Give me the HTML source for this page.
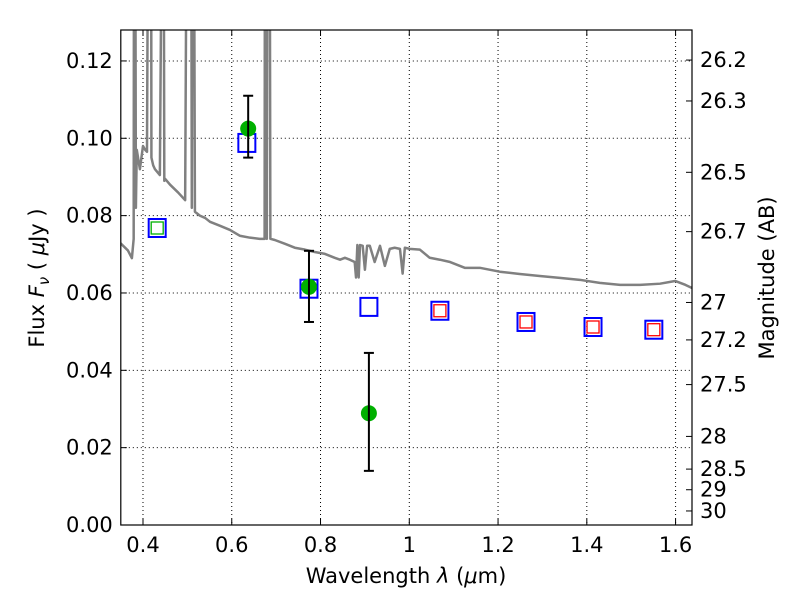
<!DOCTYPE html>
<html><head><meta charset="utf-8"><style>
body{margin:0;background:#fff;}
svg text{font-family:"DejaVu Sans","Liberation Sans",sans-serif;font-size:21px;fill:#000;}
</style></head><body>
<svg id="chart" width="800" height="600">
<g id="grid"></g>
<g id="spec"></g>
<g id="marks"></g>
<rect x="120.8" y="30" width="571.2" height="495" fill="none" stroke="#000" stroke-width="1.2"/>
<g id="axes"></g>
<text x="406" y="583" text-anchor="middle">Wavelength  <tspan font-style="italic">λ</tspan> (<tspan font-style="italic">μ</tspan>m)</text>
<text transform="translate(44,278) rotate(-90)" text-anchor="middle">Flux  <tspan font-style="italic">F</tspan><tspan font-style="italic" font-size="15" dy="5">ν</tspan><tspan dy="-5">  ( </tspan><tspan font-style="italic">μ</tspan>Jy )</text>
<text transform="translate(774,278) rotate(-90)" text-anchor="middle">Magnitude (AB)</text>
</svg>
<script>
const specWl=[0.348,0.366,0.375,0.379,0.380,0.382,0.384,0.386,0.393,0.400,0.405,0.409,0.413,0.418,0.419,0.421,0.423,0.427,0.438,0.445,0.446,0.448,0.450,0.461,0.479,0.495,0.500,0.501,0.503,0.505,0.506,0.508,0.510,0.512,0.514,0.517,0.528,0.540,0.551,0.573,0.596,0.618,0.641,0.663,0.674,0.675,0.677,0.679,0.681,0.683,0.685,0.687,0.697,0.720,0.742,0.765,0.787,0.810,0.832,0.844,0.855,0.866,0.877,0.880,0.883,0.886,0.889,0.895,0.900,0.905,0.911,0.922,0.934,0.945,0.956,0.967,0.979,0.985,0.990,1.001,1.024,1.046,1.069,1.092,1.125,1.159,1.204,1.249,1.294,1.339,1.384,1.429,1.475,1.520,1.565,1.599,1.622,1.637];
const specFlux=[0.073,0.071,0.069,0.074,0.2,0.2,0.082,0.097,0.092,0.098,0.097,0.0965,0.2,0.2,0.095,0.094,0.093,0.092,0.0905,0.2,0.2,0.089,0.0895,0.088,0.086,0.084,0.2,0.2,0.2,0.2,0.2,0.2,0.082,0.2,0.2,0.081,0.080,0.0794,0.0784,0.0774,0.0763,0.0748,0.0743,0.074,0.074,0.2,0.2,0.074,0.2,0.2,0.2,0.074,0.0737,0.0727,0.0717,0.0712,0.0706,0.0701,0.0691,0.0686,0.0691,0.0686,0.068,0.064,0.0724,0.064,0.0724,0.0722,0.066,0.0722,0.0722,0.068,0.0722,0.067,0.0714,0.0717,0.0714,0.065,0.0717,0.0714,0.0712,0.0691,0.0686,0.068,0.0665,0.0665,0.0655,0.0649,0.0644,0.0639,0.0634,0.0626,0.0621,0.0621,0.0624,0.0631,0.0621,0.0613];
const bandWl=[0.432,0.634,0.774,0.909,1.069,1.263,1.414,1.551];
const modelFlux=[0.0768,0.0988,0.0611,0.0564,0.0554,0.0525,0.0512,0.0505];
const innerColor=["#00b000",null,null,null,"#f00","#f00","#f00","#f00"];
const obsWl=[0.637,0.774,0.909];
const obsFlux=[0.1025,0.0616,0.0289];
const obsLo=[0.095,0.0525,0.014];
const obsHi=[0.111,0.0709,0.0445];
const xTicks=[0.4,0.6,0.8,1.0,1.2,1.4,1.6];
const xTickLabels=["0.4","0.6","0.8","1","1.2","1.4","1.6"];
const yTicks=[0,0.02,0.04,0.06,0.08,0.10,0.12];
const yTickLabels=["0.00","0.02","0.04","0.06","0.08","0.10","0.12"];
const magTicks=[26.2,26.3,26.5,26.7,27,27.2,27.5,28,28.5,29,30];

const NS="http://www.w3.org/2000/svg";
const X0=120.8,X1=692,Y0=525,Y1=30,xmin=0.35,xmax=1.637,ymin=0,ymax=0.128;
const sx=v=>X0+(v-xmin)/(xmax-xmin)*(X1-X0);
const sy=v=>Y0-(v-ymin)/(ymax-ymin)*(Y0-Y1);
function mk(tag,attrs,parent){const e=document.createElementNS(NS,tag);for(const k in attrs)e.setAttribute(k,attrs[k]);parent.appendChild(e);return e;}
const grid=document.getElementById('grid'),axes=document.getElementById('axes'),spec=document.getElementById('spec'),marks=document.getElementById('marks');
xTicks.forEach((t,i)=>{const x=sx(t);
 const g=mk('line',{x1:x,x2:x,y1:Y1,y2:Y0,stroke:'#000','stroke-width':1,'stroke-dasharray':'1,3'},grid);
 
 
 mk('line',{x1:x,x2:x,y1:Y0,y2:Y0-6,stroke:'#000'},axes);
 mk('line',{x1:x,x2:x,y1:Y1,y2:Y1+6,stroke:'#000'},axes);
 const tx=mk('text',{x:x,y:Y0+27,'text-anchor':'middle'},axes);tx.textContent=xTickLabels[i];
 
 
});
yTicks.forEach((t,i)=>{const y=sy(t);
 if(t>0){const g=mk('line',{x1:X0,x2:X1,y1:y,y2:y,stroke:'#000','stroke-width':1,'stroke-dasharray':'1,3'},grid);
 
 }
 mk('line',{x1:X0,x2:X0+6,y1:y,y2:y,stroke:'#000'},axes);
 const tx=mk('text',{x:X0-8,y:y+7,'text-anchor':'end'},axes);tx.textContent=yTickLabels[i];
 
 
});
magTicks.forEach(m=>{const f=Math.pow(10,(23.9-m)/2.5);const y=sy(f);
 mk('line',{x1:X1,x2:X1-6,y1:y,y2:y,stroke:'#000'},axes);
 const tx=mk('text',{x:X1+8,y:y+7},axes);tx.textContent=String(m);
 
 
});
const clip=mk('clipPath',{id:'pc'},document.getElementById('chart'));
mk('rect',{x:X0,y:Y1,width:X1-X0,height:Y0-Y1},clip);
const p=mk('polyline',{points:specWl.map((w,i)=>sx(w)+','+sy(specFlux[i])).join(' '),fill:'none',stroke:'#808080','stroke-width':2.5,'stroke-linejoin':'round','clip-path':'url(#pc)'},spec);


bandWl.forEach((w,i)=>{const x=sx(w),y=sy(modelFlux[i]);
 const r=mk('rect',{x:x-8.5,y:y-9,width:17,height:18,fill:'none',stroke:'#00f','stroke-width':2},marks);
 
 
 if(innerColor[i]){const r2=mk('rect',{x:x-6,y:y-6,width:12,height:12,fill:'#fff',stroke:innerColor[i],'stroke-width':1.3},marks);
 
 }
});
obsWl.forEach((w,i)=>{const x=sx(w);
 const e=mk('g',{},marks);
 
 
 mk('line',{x1:x,x2:x,y1:sy(obsLo[i]),y2:sy(obsHi[i]),stroke:'#000','stroke-width':2},e);
 mk('line',{x1:x-5,x2:x+5,y1:sy(obsLo[i]),y2:sy(obsLo[i]),stroke:'#000','stroke-width':2},e);
 mk('line',{x1:x-5,x2:x+5,y1:sy(obsHi[i]),y2:sy(obsHi[i]),stroke:'#000','stroke-width':2},e);
 const c=mk('circle',{cx:x,cy:sy(obsFlux[i]),r:8,fill:'#00b000'},marks);
 
 
 marks.appendChild(e);
});
</script>
</body></html>
